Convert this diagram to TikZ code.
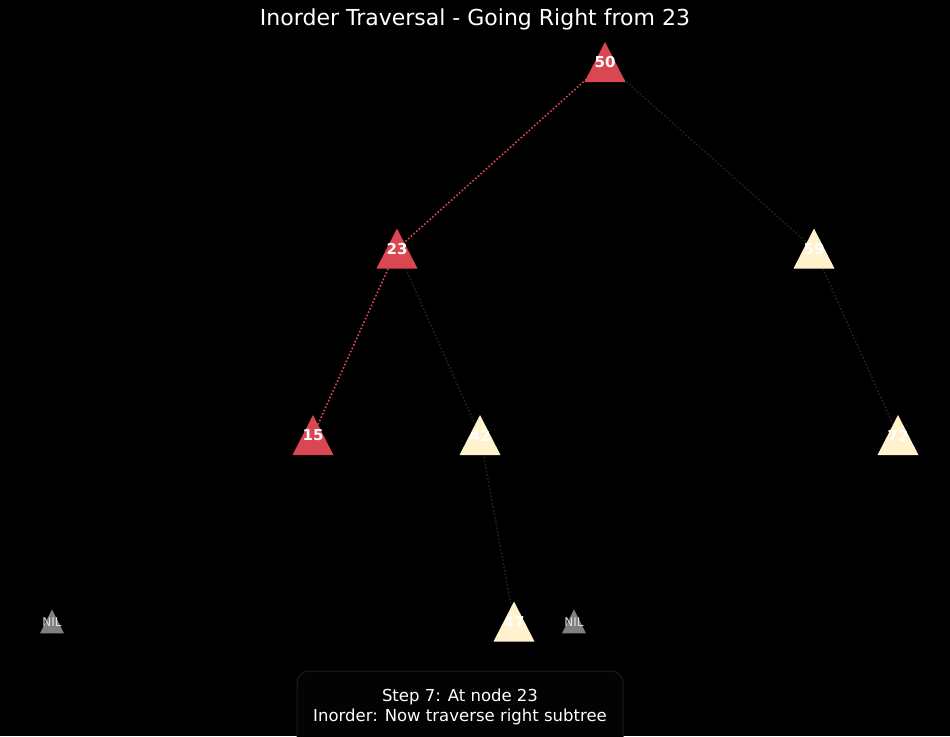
\documentclass[tikz,border=0pt]{standalone}
\usepackage{fontspec}
\setmainfont{DejaVu Sans}
\usetikzlibrary{shapes.geometric}
\definecolor{visred}{RGB}{218,70,82}
\definecolor{cream}{RGB}{255,242,204}
\definecolor{nilgrey}{RGB}{128,128,128}
\definecolor{edgedark}{RGB}{34,34,34}
\definecolor{boxborder}{RGB}{28,28,28}
\definecolor{boxfill}{RGB}{3,3,3}
\tikzset{
  tri/.style={isosceles triangle, shape border rotate=90, isosceles triangle stretches=true,
    minimum width=41pt, minimum height=40pt, inner sep=0pt, draw=none, yshift=-7pt},
  visited/.style={tri, fill=visred},
  unvisited/.style={tri, fill=cream},
  nilnode/.style={isosceles triangle, shape border rotate=90, isosceles triangle stretches=true,
    minimum width=24pt, minimum height=24pt, inner sep=0pt, fill=nilgrey, yshift=-4pt},
  keytext/.style={text=white, font=\fontsize{15}{17}\selectfont\bfseries, yshift=7pt},
  niltext/.style={text=black!12, font=\fontsize{12}{14}\selectfont, yshift=4pt},
  rededge/.style={visred, dotted, line width=1.6pt},
  darkedge/.style={edgedark, dotted, line width=1.6pt},
}
\begin{document}
\begin{tikzpicture}[x=1pt,y=-1pt]
\fill[black] (0,0) rectangle (950,736);
\useasboundingbox (0,0) rectangle (950,736);
\node[text=white, font=\fontsize{22}{26}\selectfont] (title) at (475,19) {Inorder Traversal - Going Right from 23};
% edges (drawn first, behind the triangles)
\coordinate (c50) at (605,62.5);
\coordinate (c23) at (397,249);
\coordinate (c59) at (814,249);
\coordinate (c15) at (313,435.5);
\coordinate (c42) at (480,435.5);
\coordinate (c72) at (898,435.5);
\coordinate (c47) at (514,622);
\draw[rededge] (c50) -- (c23);
\draw[darkedge] (c50) -- (c59);
\draw[rededge] (c23) -- (c15);
\draw[darkedge] (c23) -- (c42);
\draw[darkedge] (c59) -- (c72);
\draw[darkedge] (c42) -- (c47);
% nodes
\node[visited, label={[keytext]center:50}] (n50) at (c50) {};
\node[visited, label={[keytext]center:23}] (n23) at (c23) {};
\node[unvisited, label={[keytext]center:59}] (n59) at (c59) {};
\node[visited, label={[keytext]center:15}] (n15) at (c15) {};
\node[unvisited, label={[keytext]center:42}] (n42) at (c42) {};
\node[unvisited, label={[keytext]center:72}] (n72) at (c72) {};
\node[unvisited, label={[keytext]center:47}] (n47) at (c47) {};
\node[nilnode, label={[niltext]center:NIL}] (nil1) at (52,622) {};
\node[nilnode, label={[niltext]center:NIL}] (nil2) at (574,622) {};
% info box
\draw[boxborder, fill=boxfill, line width=1pt, rounded corners=12pt] (297,671) rectangle (623,760);
\node[text=white, font=\fontsize{16.5}{20}\selectfont, align=center] (info) at (460,707) {Step 7: At node 23\\Inorder: Now traverse right subtree};
\end{tikzpicture}
\end{document}
